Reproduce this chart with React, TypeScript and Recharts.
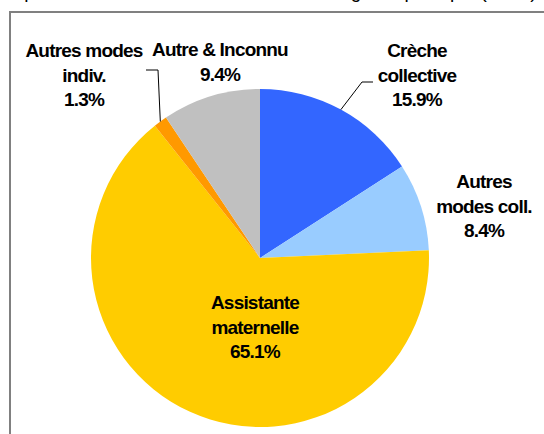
import { PieChart, Pie, Cell } from "recharts";

const CATEGORIES = [
  "Crèche collective",
  "Autres modes coll.",
  "Assistante maternelle",
  "Autres modes indiv.",
  "Autre & Inconnu",
];
const SHARES = [15.9, 8.4, 65.1, 1.3, 9.4];
const LABEL_LINES = [
  ["Crèche", "collective"],
  ["Autres", "modes coll."],
  ["Assistante", "maternelle"],
  ["Autres modes", "indiv."],
  ["Autre & Inconnu"],
];
const COLORS = ["#3366FF", "#99CCFF", "#FFCC00", "#FF9900", "#C0C0C0"];

const data = CATEGORIES.map((name, i) => ({ name, value: SHARES[i] }));

// label anchor: centre of first baseline, relative to pie centre
const LABEL_POS = [
  { dx: 157, dy: -201 },
  { dx: 224, dy: -70 },
  { dx: -5, dy: 51 },
  { dx: -176, dy: -201 },
  { dx: -40, dy: -202 },
];
// leader elbows / ends, relative to pie centre (null = no line)
const LEADERS: ({ elbow: [number, number]; end: [number, number] } | null)[] = [
  { elbow: [102, -176], end: [113, -176] },
  null,
  null,
  { elbow: [-102, -188], end: [-114, -188] },
  null,
];

const LINE_H = 24.5;
const RAD = Math.PI / 180;

const renderLabel = (props: any) => {
  const { cx, cy, midAngle, outerRadius, index, value } = props;
  const pos = LABEL_POS[index];
  const lines = [...LABEL_LINES[index], `${value.toFixed(1)}%`];
  const x = cx + pos.dx;
  const y0 = cy + pos.dy;
  const lead = LEADERS[index];
  let line = null;
  if (lead) {
    const sx = cx + outerRadius * Math.cos(-midAngle * RAD);
    const sy = cy + outerRadius * Math.sin(-midAngle * RAD);
    const pts = `${sx},${sy} ${cx + lead.elbow[0]},${cy + lead.elbow[1]} ${cx + lead.end[0]},${cy + lead.end[1]}`;
    line = <polyline points={pts} fill="none" stroke="#000" strokeWidth={1} />;
  }
  return (
    <g key={`lbl-${index}`}>
      {line}
      <text
        x={x}
        y={y0}
        textAnchor="middle"
        fill="#000"
        style={{
          fontFamily: "'Liberation Sans', Arial, sans-serif",
          fontWeight: 700,
          fontSize: 19,
          letterSpacing: -0.8,
        }}
      >
        {lines.map((t, i) => (
          <tspan key={i} x={x} y={y0 + i * LINE_H}>
            {t}
          </tspan>
        ))}
      </text>
    </g>
  );
};

const App = () => {
  return (
    <div
      style={{
        position: "fixed",
        left: 0,
        top: 0,
        width: 544,
        height: 434,
        overflow: "hidden",
        background: "#fff",
      }}
    >
      <div
        style={{
          position: "absolute",
          left: 0,
          top: -19,
          whiteSpace: "nowrap",
          fontFamily: "'Liberation Sans', Arial, sans-serif",
          fontSize: 19,
          color: "#000",
        }}
      >
        Répartition des enfants selon le mode de garde principal (en %)
      </div>
      <div
        style={{
          position: "absolute",
          left: 9,
          top: 11,
          width: 600,
          height: 500,
          border: "2px solid #808080",
          boxSizing: "border-box",
        }}
      />
      <div style={{ position: "absolute", left: 0, top: 0 }}>
        <PieChart width={544} height={434}>
          <Pie
            data={data}
            dataKey="value"
            nameKey="name"
            cx={255}
            cy={253}
            outerRadius={169}
            startAngle={90}
            endAngle={-270}
            stroke="none"
            label={renderLabel}
            labelLine={false}
            isAnimationActive={false}
          >
            {data.map((_, i) => (
              <Cell key={`cell-${i}`} fill={COLORS[i]} />
            ))}
          </Pie>
        </PieChart>
      </div>
    </div>
  );
};

export default App;
